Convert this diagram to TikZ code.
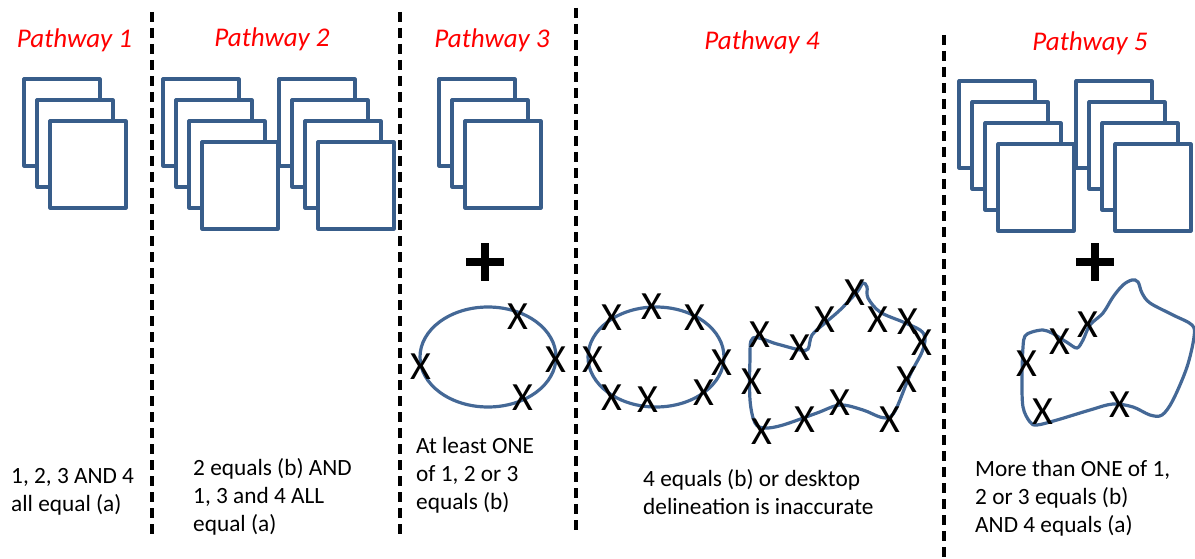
\documentclass[tikz,border=0pt]{standalone}
\usepackage{fontspec}
\setmainfont{Carlito}
\definecolor{boxblue}{RGB}{56,93,138}
\definecolor{lineblue}{RGB}{68,104,150}
\begin{document}
\begin{tikzpicture}[x=1pt,y=-1pt,
  sheet/.style={draw=boxblue,line width=3.2pt,fill=white,line join=round},
  divider/.style={draw=black,line width=3.2pt,dash pattern=on 10pt off 6pt},
  title/.style={text=red,font=\fontsize{27}{32}\selectfont\itshape,anchor=base,inner sep=0pt},
  bodytext/.style={font=\fontsize{23.3}{28}\selectfont,anchor=base west,inner sep=0pt},
  cross/.style={font=\fontsize{40}{40}\selectfont,inner sep=0pt,anchor=center},
  outline/.style={draw=lineblue,line width=3.2pt},
  plusbar/.style={draw=black,line width=8pt}]

\useasboundingbox (0,0) rectangle (1195,559);

% column dividers
\draw[divider] (152,12) -- (152,538);
\draw[divider] (400,12) -- (400,538);
\draw[divider] (576,8) -- (576,534);
\draw[divider] (944,35) -- (944,559);

% column headings
\node[title] (h1) at (74.5,48) {Pathway 1};
\node[title] (h2) at (272,47) {Pathway 2};
\node[title] (h3) at (492,48) {Pathway 3};
\node[title] (h4) at (762,50) {Pathway 4};
\node[title] (h5) at (1090,51) {Pathway 5};

% stacks of sheets: top-left corner of the first sheet and number of sheets
\foreach \x/\y/\n in {24/79/3, 163/79/4, 279/79/4, 439/79/3, 959/81/4, 1076/81/4}{
  \foreach \i in {1,...,\n}{
    \draw[sheet] ({\x+13*(\i-1)},{\y+21*(\i-1)}) rectangle ++(76,87);
  }
}

% plus signs
\draw[plusbar] (466,262) -- (504,262);
\draw[plusbar] (485,243) -- (485,281);
\draw[plusbar] (1076,262) -- (1114,262);
\draw[plusbar] (1095,243) -- (1095,281);

% pathway 3: regular outline with a few crosses
\draw[outline] (488,357) ellipse [x radius=68pt, y radius=50pt];
\foreach \p [count=\k] in {(421,367),(518,317),(556,360),(523,398)}
  \node[cross] (c3-\k) at \p {X};

% pathway 4: regular outline, crossed all round
\draw[outline] (656,357) ellipse [x radius=68pt, y radius=50pt];
\foreach \p [count=\k] in {(612,318),(652,307),(695,318),(593,360),(722,363),(612,398),(648,400),(704,393)}
  \node[cross] (c4a-\k) at \p {X};

% pathway 4: irregular outline, crossed all round
\draw[outline] plot[smooth cycle,tension=0.55] coordinates {
  (753,338) (777,344) (800,350) (808,349) (812,335) (825,323) (840,310)
  (857,292) (863,283) (867,287) (868,298) (880,312) (903,322) (920,330)
  (925,338) (922,352) (910,375) (897,407) (890,417) (880,417) (863,410)
  (840,405) (817,413) (783,425) (765,428) (755,423) (750,400) (750,360)};
\foreach \p [count=\k] in {(760,335),(800,348),(825,320),(855,293),(878,320),(908,322),(922,343),(907,380),(890,420),(840,403),(805,420),(762,432),(752,382)}
  \node[cross] (c4b-\k) at \p {X};

% pathway 5: irregular outline with crosses on part of it
\draw[outline] plot[smooth cycle,tension=0.55] coordinates {
  (1032,332) (1025,336) (1023,347) (1022,377) (1023,407) (1030,422)
  (1037,425) (1057,420) (1090,410) (1113,404) (1133,407) (1150,415)
  (1162,415) (1173,400) (1187,367) (1194,337) (1192,325) (1173,315)
  (1150,303) (1142,293) (1138,282) (1132,280) (1123,285) (1113,297)
  (1103,313) (1090,325) (1083,340) (1077,348) (1068,343) (1060,338)
  (1052,333) (1043,330)};
\foreach \p [count=\k] in {(1027,364),(1060,342),(1088,325),(1043,412),(1120,405)}
  \node[cross] (c5-\k) at \p {X};

% captions
\node[bodytext] (t1) at (11,483) {\begin{tabular}[t]{@{}l@{}}1, 2, 3 AND 4\\all equal (a)\end{tabular}};
\node[bodytext] (t2) at (193,475) {\begin{tabular}[t]{@{}l@{}}2 equals (b) AND\\1, 3 and 4 ALL\\equal (a)\end{tabular}};
\node[bodytext] (t3) at (416,453) {\begin{tabular}[t]{@{}l@{}}At least ONE\\of 1, 2 or 3\\equals (b)\end{tabular}};
\node[bodytext] (t4) at (643,486) {\begin{tabular}[t]{@{}l@{}}4 equals (b) or desktop\\delineation is inaccurate\end{tabular}};
\node[bodytext] (t5) at (975,476) {\begin{tabular}[t]{@{}l@{}}More than ONE of 1,\\2 or 3 equals (b)\\AND 4 equals (a)\end{tabular}};
\end{tikzpicture}
\end{document}
